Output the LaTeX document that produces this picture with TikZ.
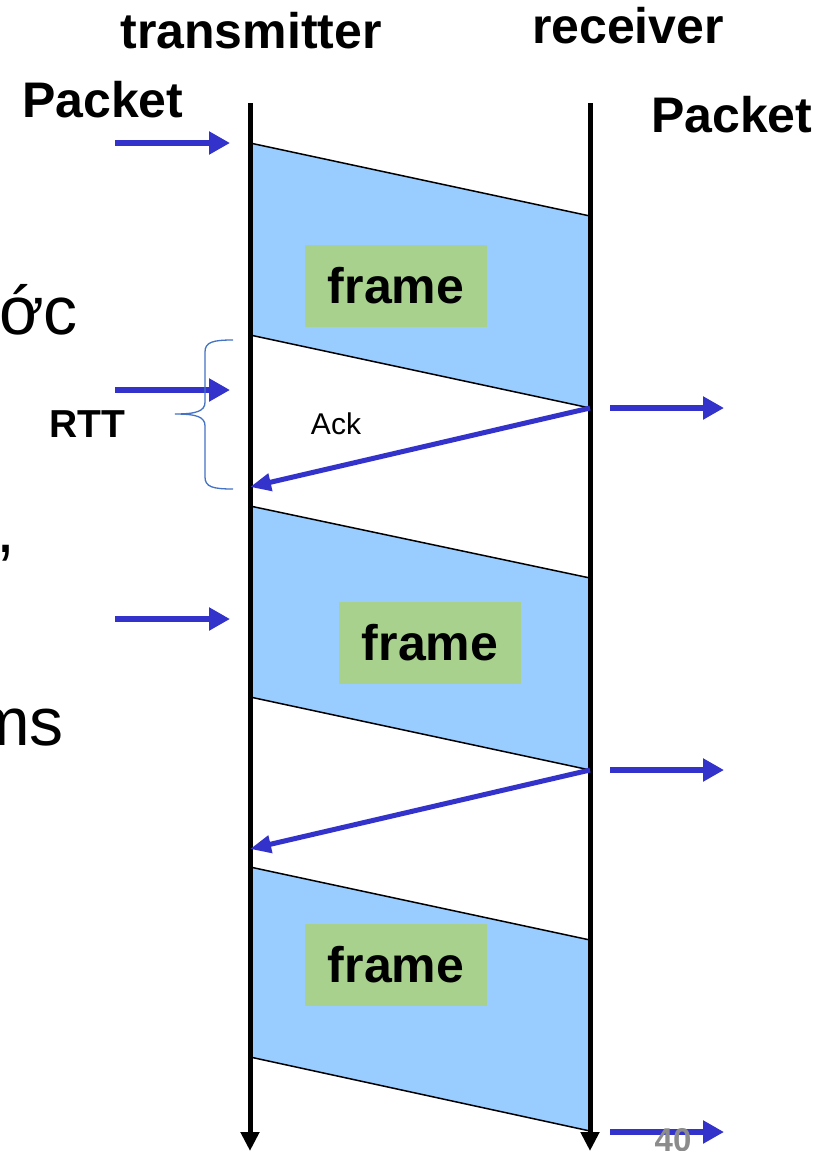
\documentclass[tikz,border=0pt]{standalone}
\usepackage{fontspec}
\setmainfont{Liberation Sans}
\usetikzlibrary{arrows.meta}

\definecolor{framefill}{HTML}{99CCFF}
\definecolor{labelgreen}{HTML}{A9D18E}
\definecolor{sigblue}{HTML}{3333CC}
\definecolor{bracecol}{HTML}{4472C4}
\definecolor{pagenum}{HTML}{8C8C8C}

\tikzset{
  head/.style={font=\fontsize{50}{56}\selectfont\bfseries, inner sep=0pt},
  slidetext/.style={font=\fontsize{68}{76}\selectfont, inner sep=0pt},
  lifeline/.style={line width=5pt, -{Triangle[length=19pt,width=18pt]}},
  edge/.style={line width=1.5pt, black},
  sig/.style={sigblue, line width=5.5pt, -{Triangle[length=21pt,width=22pt]}},
  ack/.style={sigblue, line width=5pt, -{Triangle[length=21pt,width=17pt]}},
  greenbox/.style={fill=labelgreen, minimum width=182pt, minimum height=82pt,
    inner sep=0pt, font=\fontsize{50}{56}\selectfont\bfseries},
}

\begin{document}
\begin{tikzpicture}[x=1pt,y=-1pt]
\useasboundingbox (0,0) rectangle (834,1151);
\fill[white] (0,0) rectangle (834,1151);

% text of the slide behind the diagram, running off the left edge
\node[slidetext, anchor=base east] (frag1) at (78,334) {ớc};
\node[slidetext, anchor=base west] (frag2) at (-4,552) {,};
\node[slidetext, anchor=base east] (frag3) at (64,745) {ms};

% headings
\node[head, anchor=base] (tx) at (251,48) {transmitter};
\node[head, anchor=base] (rx) at (628,43) {receiver};
\node[head, anchor=base west] (pin) at (22,117) {Packet};
\node[head, anchor=base west] (pout) at (651,132) {Packet};

% corners of the three frames
\coordinate (f1a) at (250,143);  \coordinate (f1b) at (590,216);
\coordinate (f1c) at (590,408);  \coordinate (f1d) at (250,335);
\coordinate (f2a) at (250,506);  \coordinate (f2b) at (590,578);
\coordinate (f2c) at (590,770);  \coordinate (f2d) at (250,697);
\coordinate (f3a) at (250,867);  \coordinate (f3b) at (590,940);
\coordinate (f3c) at (590,1131); \coordinate (f3d) at (250,1057);

\foreach \f in {f1,f2,f3}{
  \fill[framefill] (\f a) -- (\f b) -- (\f c) -- (\f d) -- cycle;
  \draw[edge] (\f a) -- (\f b) (\f d) -- (\f c);
}

% frame labels
\node[greenbox] (lab1) at (396,286) {frame};
\node[greenbox] (lab2) at (430,643) {frame};
\node[greenbox] (lab3) at (396,965) {frame};

% lifelines
\coordinate (txtop) at (250,103);
\coordinate (txbot) at (250,1151);
\coordinate (rxtop) at (590,103);
\coordinate (rxbot) at (590,1151);
\draw[lifeline] (txtop) -- (txbot);
\draw[lifeline] (rxtop) -- (rxbot);

% acknowledgements
\coordinate (ack1) at (250,487);
\coordinate (ack2) at (250,849);
\draw[ack] (f1c) -- (ack1);
\draw[ack] (f2c) -- (ack2);
\node[font=\fontsize{30}{34}\selectfont, inner sep=0pt] (acklab) at (336,424) {Ack};

% packets handed in
\coordinate (in1s) at (115,143); \coordinate (in1e) at (230,143);
\coordinate (in2s) at (115,390); \coordinate (in2e) at (230,390);
\coordinate (in3s) at (115,619); \coordinate (in3e) at (230,619);
\draw[sig] (in1s) -- (in1e);
\draw[sig] (in2s) -- (in2e);
\draw[sig] (in3s) -- (in3e);

% packets delivered
\coordinate (out1s) at (610,408);  \coordinate (out1e) at (724,408);
\coordinate (out2s) at (610,770);  \coordinate (out2e) at (724,770);
\coordinate (out3s) at (610,1132); \coordinate (out3e) at (724,1132);
\draw[sig] (out1s) -- (out1e);
\draw[sig] (out2s) -- (out2e);
\draw[sig] (out3s) -- (out3e);

% round trip time brace
\draw[bracecol, line width=1.3pt]
  (233,340) .. controls (213,340) and (205,342) .. (205,352)
  -- (205,402) .. controls (205,411) and (197,414) .. (175,414)
  .. controls (197,414) and (205,417) .. (205,426)
  -- (205,477) .. controls (205,487) and (213,489) .. (233,489);
\node[font=\fontsize{39}{44}\selectfont\bfseries, inner sep=0pt] (rtt) at (87,424) {RTT};

% slide number
\node[font=\fontsize{33}{36}\selectfont\bfseries, text=pagenum, inner sep=0pt, anchor=base]
  (pnum) at (673,1151) {40};
\end{tikzpicture}
\end{document}
